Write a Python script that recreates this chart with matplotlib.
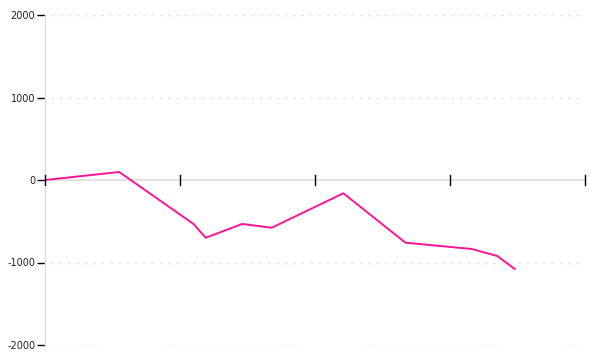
import matplotlib.pyplot as plt

# valores
x = [0, 5.5, 11, 11.9, 14.6, 16.8, 22.1, 26.7, 31.6, 33.5, 34.8]
y = [0, 97, -533, -700, -533, -578, -161, -760, -836, -921, -1079]

yticks = [-2000, -1000, 0, 1000, 2000]
xticks = [0, 10, 20, 30, 40]

fig = plt.figure(figsize=(6, 3.6), dpi=100)
ax = fig.add_axes([0.075, 1 - 345 / 360, 0.9, 330 / 360])

# rejilla punteada
for v in yticks:
    if v != 0:
        ax.axhline(v, xmin=0.012, color="#e6e6e6", linestyle=(0, (2, 4)), linewidth=1, zorder=0)
ax.axhline(0, color="#dddddd", linewidth=1.2, zorder=1)

ax.plot(x, y, color="#ff1493", linewidth=1.4, zorder=3)

ax.set_xlim(0, 40)
ax.set_ylim(-2000, 2000)
ax.set_yticks(yticks)
ax.set_yticklabels([str(v) for v in yticks])
ax.set_xticks([])

# marcas del eje x sobre la linea del cero
for t in xticks:
    ax.plot([t, t], [-60, 60], color="black", linewidth=1, zorder=4, clip_on=False)

for s in ["top", "right", "bottom"]:
    ax.spines[s].set_visible(False)
ax.spines["left"].set_color("#dddddd")
ax.spines["left"].set_linewidth(1)

ax.tick_params(axis="y", direction="out", length=6, width=1, color="black",
               labelsize=7, labelcolor="#222222", pad=1)

fig.savefig("out.png", dpi=100)
